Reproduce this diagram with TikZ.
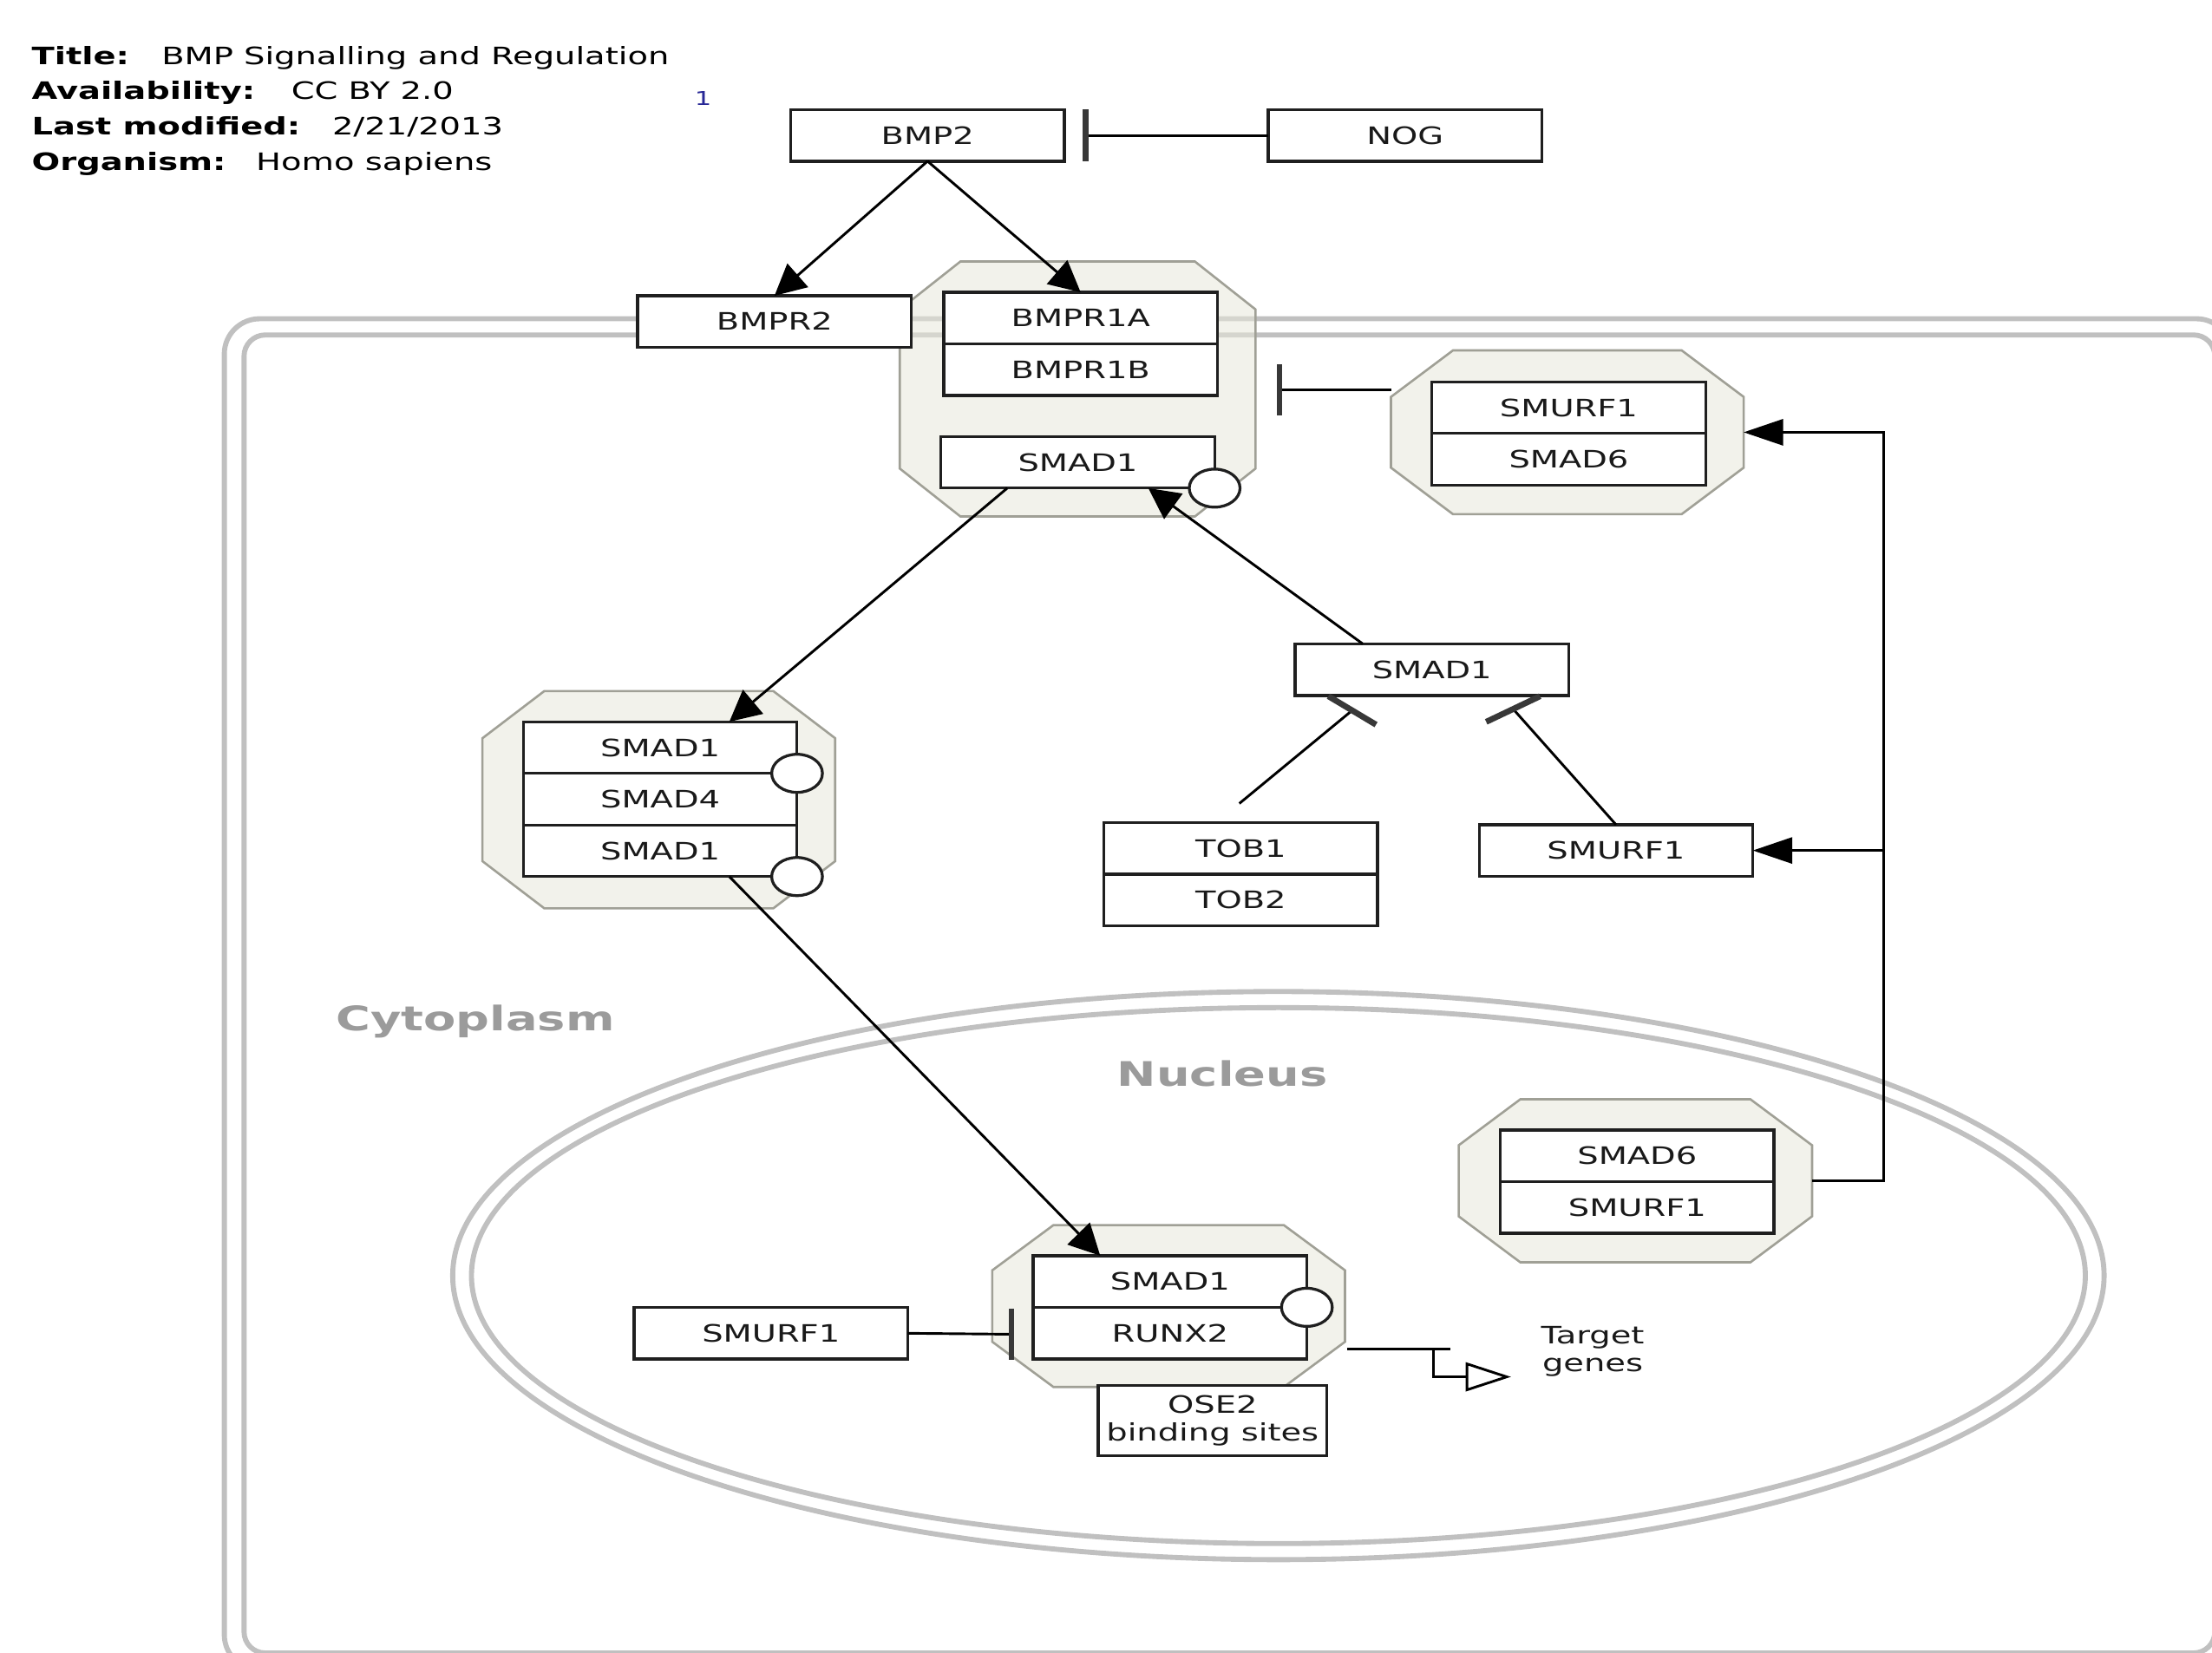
\documentclass[tikz,border=0pt]{standalone}
\usepackage{fontspec}
\setmainfont{DejaVu Sans}[FakeStretch=1.39]
\usetikzlibrary{arrows.meta,calc,shapes.geometric}
\definecolor{membgray}{RGB}{192,192,192}
\definecolor{cfill}{RGB}{232,232,218}
\definecolor{cborder}{RGB}{160,160,150}
\definecolor{lblgray}{RGB}{155,155,155}
\definecolor{numblue}{RGB}{40,40,150}
\newcommand\lblfont{\fontsize{17pt}{19.5pt}\selectfont}
\newcommand\drawcplx[3]{%
  \filldraw[cplx] ($(#1.north west)+(#2,0)$) -- ($(#1.north east)+(-#2,0)$) -- ($(#1.north east)+(0,#3)$) -- ($(#1.south east)+(0,-#3)$) -- ($(#1.south east)+(-#2,0)$) -- ($(#1.south west)+(#2,0)$) -- ($(#1.south west)+(0,-#3)$) -- ($(#1.north west)+(0,#3)$) -- cycle;}
\begin{document}
\begin{tikzpicture}[x=1pt,y=-1pt,
  boxbase/.style={draw=black!88, line width=2pt, fill=white, inner sep=0pt, outer sep=0pt, font=\lblfont, text=black!90},
  gene/.style={boxbase, minimum width=194pt, minimum height=36.6pt, text height=12.4pt, text depth=0pt},
  cbox/.style={inner sep=0pt, outer sep=0pt},
  cplx/.style={fill=cfill, fill opacity=0.55, draw=cborder, line width=1.6pt},
  site/.style={draw=black!88, line width=2pt, fill=white, ellipse, minimum width=36pt, minimum height=27pt, inner sep=0pt},
  conn/.style={line width=1.8pt, draw=black},
  act/.style={conn, -{Triangle[length=22pt,width=22pt]}},
  acth/.style={conn, -{Triangle[length=28pt,width=18.5pt]}},
  tbar/.style={line width=4.2pt, draw=black!78},
  memb/.style={draw=membgray, line width=3.6pt},
  comp/.style={font=\fontsize{24pt}{28pt}\selectfont\bfseries, text=lblgray}
]
\useasboundingbox (0,0) rectangle (1568,1171.4);
\clip (0,0) rectangle (1568,1171.4);

% membranes
\draw[memb, rounded corners=25pt] (159,226) rectangle (1582,1184);
\draw[memb, rounded corners=15pt] (173,237.5) rectangle (1570,1172);
\draw[memb] (906.2,904.4) ellipse [x radius=585.3pt, y radius=201.4pt];
\draw[memb] (906.2,904.4) ellipse [x radius=572pt, y radius=190pt];

\node[comp] (cyto) at (337,724) {Cytoplasm};
\node[comp] (nucl) at (866.5,761) {Nucleus};

% title block
\node[anchor=base west, font=\lblfont\bfseries] (tl1) at (19,45.7) {Title:};
\node[anchor=base west, font=\lblfont] (tv1) at (111,45.7) {BMP Signalling and Regulation};
\node[anchor=base west, font=\lblfont\bfseries] (tl2) at (19,70.7) {Availability:};
\node[anchor=base west, font=\lblfont] (tv2) at (203,70.7) {CC BY 2.0};
\node[anchor=base west, font=\lblfont\bfseries] (tl3) at (19,95.7) {Last modified:};
\node[anchor=base west, font=\lblfont] (tv3) at (232,95.7) {2/21/2013};
\node[anchor=base west, font=\lblfont\bfseries] (tl4) at (19,120.7) {Organism:};
\node[anchor=base west, font=\lblfont] (tv4) at (178,120.7) {Homo sapiens};
\node[font=\fontsize{13.5pt}{15pt}\selectfont, text=numblue] (pubref) at (498.4,69.6) {1};

% complexes
\node[cbox, minimum width=252.2pt, minimum height=180.8pt] (c1) at (763.9,275.8) {};
\node[cbox, minimum width=250pt, minimum height=116.2pt] (c2) at (1111,306.5) {};
\node[cbox, minimum width=250.5pt, minimum height=115.6pt] (c3) at (1159.25,837.2) {};
\node[cbox, minimum width=250pt, minimum height=154pt] (c4) at (467,567) {};
\node[cbox, minimum width=250pt, minimum height=114.7pt] (c5) at (828.4,926) {};
\drawcplx{c1}{43}{34}
\drawcplx{c2}{44}{33}
\drawcplx{c3}{43.7}{32.6}
\drawcplx{c4}{43.8}{33.4}
\drawcplx{c5}{43.3}{32}

% gene products
\node[gene] (bmp2) at (657.5,96) {BMP2};
\node[gene] (nog) at (996,96) {NOG};
\node[gene] (bmpr2) at (549,228) {BMPR2};
\node[gene] (bmpr1a) at (766,225.5) {BMPR1A};
\node[gene] (bmpr1b) at (766,262.1) {BMPR1B};
\node[gene] (smad1a) at (764,327.8) {SMAD1};
\node[gene] (smurf1a) at (1112,289) {SMURF1};
\node[gene] (smad6a) at (1112,325.6) {SMAD6};
\node[gene] (smad1b) at (1015,474.8) {SMAD1};
\node[gene] (tob1) at (879.5,601.5) {TOB1};
\node[gene] (tob2) at (879.5,638.1) {TOB2};
\node[gene] (smurf1b) at (1145.5,603) {SMURF1};
\node[gene] (smad1c) at (468,530) {SMAD1};
\node[gene] (smad4) at (468,566.6) {SMAD4};
\node[gene] (smad1d) at (468,603.2) {SMAD1};
\node[gene] (smad6b) at (1160.5,819.5) {SMAD6};
\node[gene] (smurf1c) at (1160.5,856.1) {SMURF1};
\node[gene] (smad1e) at (829.4,908.6) {SMAD1};
\node[gene] (runx2) at (829.4,945.2) {RUNX2};
\node[gene] (smurf1n) at (546.5,945.3) {SMURF1};
\node[boxbase, minimum width=162pt, minimum height=50pt, align=center] (ose2) at (859.5,1007.3) {OSE2\\binding sites};
\node[font=\lblfont, align=center, text=black!90] (tg) at (1129,958) {Target\\genes};

% binding sites
\node[site] (p1) at (smad1a.south east) {};
\node[site] (p2) at (smad1c.south east) {};
\node[site] (p3) at (smad1d.south east) {};
\node[site] (p4) at (smad1e.south east) {};

% connectors
\draw[act] (bmp2.south) -- (bmpr2.north);
\draw[act] (bmp2.south) -- (bmpr1a.north);
\coordinate (barnog) at ($(bmp2.east)+(15,0)$);
\draw[conn] (nog.west) -- (barnog);
\draw[tbar] ($(barnog)+(0,-18.5)$) -- ($(barnog)+(0,18.5)$);

\coordinate (barc1) at ($(c1.east)+(17,0.7)$);
\draw[conn] (barc1 -| c2.west) -- (barc1);
\draw[tbar] ($(barc1)+(0,-18)$) -- ($(barc1)+(0,18)$);

\draw[act] ($(smad1b.north)+(-49,0)$) -- ($(smad1a.south)+(50,0)$);
\draw[act] ($(smad1a.south)+(-50,0)$) -- ($(smad1c.north)+(49,0)$);
\draw[act] ($(smad1d.south)+(49,0)$) -- ($(smad1e.north)+(-49.5,0)$);

\coordinate (inhL) at ($(smad1b.south)+(-56.5,10.6)$);
\draw[conn] ($(tob1.north)+(-1,-13.5)$) -- (inhL);
\draw[tbar] ($(inhL)+(-16.9,-10.1)$) -- ($(inhL)+(16.9,10.1)$);
\coordinate (inhR) at ($(smad1b.south)+(57.6,9.6)$);
\draw[conn] (smurf1b.north) -- (inhR);
\draw[tbar] ($(inhR)+(-19.1,9.1)$) -- ($(inhR)+(19.1,-9.1)$);

\coordinate (bus) at ($(c3.east)+(50.5,0)$);
\draw[acth] (c3.east) -- (bus) |- (c2.east);
\draw[acth] (bus |- smurf1b.east) -- (smurf1b.east);

\coordinate (barn) at ($(smurf1n.east)+(73.5,0.7)$);
\draw[conn] (smurf1n.east) -- (barn);
\draw[tbar] ($(barn)+(0,-18.2)$) -- ($(barn)+(0,18.2)$);

\coordinate (tx0) at ($(c5.east)+(1.5,30.4)$);
\draw[conn] (tx0) -- ++(73.4,0);
\draw[conn] ($(tx0)+(61,0)$) -- ++(0,19.8) -- ++(24,0) coordinate (tri);
\draw[conn, fill=white] ($(tri)+(0,-9.2)$) -- ($(tri)+(28.2,0)$) -- ($(tri)+(0,9.2)$) -- cycle;
\end{tikzpicture}
\end{document}
